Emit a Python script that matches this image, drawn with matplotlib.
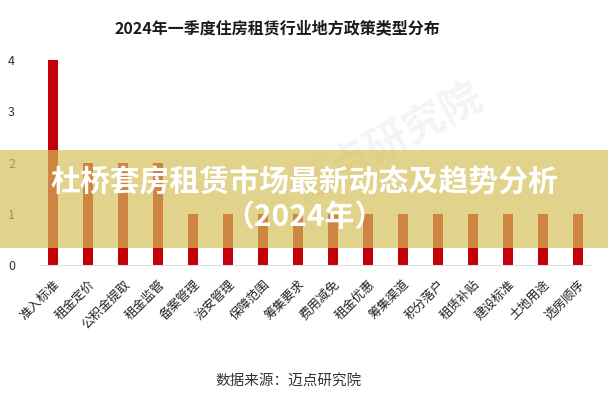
import matplotlib.pyplot as plt
from matplotlib.patches import Rectangle

plt.rcParams['font.family'] = ['Noto Sans CJK SC', 'DejaVu Sans']

# policy types and number of local policies
categories = ['准入标准', '租金定价', '公积金提取', '租金监管', '备案管理', '治安管理',
              '保障范围', '筹集要求', '费用减免', '租金优惠', '筹集渠道', '积分落户',
              '租赁补贴', '建设标准', '土地用途', '选房顺序']
counts = [4, 2, 2, 2, 1, 1, 1, 1, 1, 1, 1, 1, 1, 1, 1, 1]
y_ticks = [0, 1, 2, 3, 4]

fig = plt.figure(figsize=(6.08, 4.0), dpi=100)
ax = fig.add_axes([0.066, 0.3375, 0.904, 0.5125])

x = list(range(len(categories)))
ax.bar(x, counts, width=0.29, color='#C40008', zorder=2)

ax.set_xlim(-0.38, 15.34)
ax.set_ylim(0, 4)
ax.set_yticks(y_ticks)
ax.set_yticklabels([str(t) for t in y_ticks], fontsize=9, color='#333333')
ax.set_xticks(x)
ax.set_xticklabels(categories, rotation=45, ha='right', va='top',
                   rotation_mode='anchor', fontsize=9, color='#222222')
ax.tick_params(axis='both', length=0)
ax.tick_params(axis='y', pad=18)
ax.tick_params(axis='x', pad=9)
for side in ['top', 'right', 'left']:
    ax.spines[side].set_visible(False)
ax.spines['bottom'].set_color('#dddddd')
ax.spines['bottom'].set_linewidth(0.8)

fig.text(0.456, 0.93, '2024年一季度住房租赁行业地方政策类型分布',
         ha='center', va='center', fontsize=11.5, fontweight='heavy', color='#1a1a1a')
fig.text(0.475, 0.045, '数据来源：迈点研究院', ha='center', va='center',
         fontsize=10.5, color='#333333')

# faint watermark
fig.text(0.64, 0.64, '迈点研究院', ha='center', va='center', fontsize=30,
         rotation=28, color='#888888', alpha=0.09, fontweight='bold')

# banner overlay
fig.patches.append(Rectangle((0, 1 - 248 / 400), 1, 98 / 400, transform=fig.transFigure,
                             facecolor=(213 / 255, 191 / 255, 91 / 255), alpha=0.7,
                             edgecolor='none', zorder=5))
fig.text(0.5, 1 - 183 / 400, '杜桥套房租赁市场最新动态及趋势分析', ha='center', va='center',
         fontsize=21.5, fontweight='heavy', color='white', zorder=6)
fig.text(0.5, 1 - 217 / 400, '（2024年）', ha='center', va='center',
         fontsize=21.5, fontweight='heavy', color='white', zorder=6)

fig.savefig('out.png', dpi=100)
